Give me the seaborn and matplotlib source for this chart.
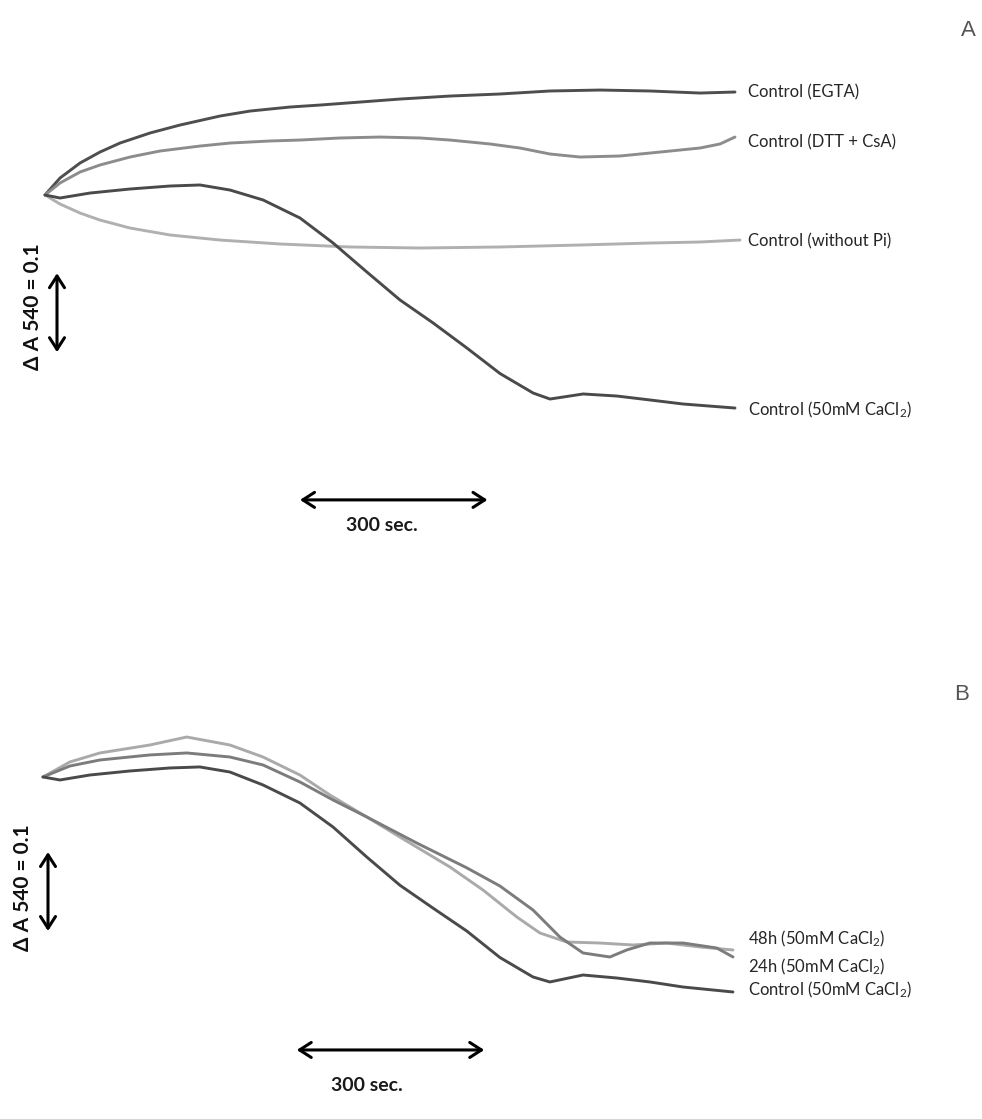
import matplotlib
matplotlib.use("Agg")
import matplotlib.pyplot as plt
import seaborn as sns
import numpy as np

# ---------------- data (time in s, signal in ΔA540 x 1000, relative to start) -------------
# Panel A
t_egta = [0, 24, 56, 88, 120, 168, 216, 280, 328, 392, 440, 504, 568, 648, 728, 808, 888, 968, 1048, 1104]
v_egta = [0, 21.5, 40.5, 54.4, 65.8, 78.5, 88.6, 100.0, 106.3, 111.4, 113.9, 117.7, 121.5, 125.3,
          127.9, 131.7, 132.9, 131.7, 129.1, 130.4]

t_dtt = [0, 24, 56, 88, 136, 184, 248, 296, 360, 408, 472, 536, 600, 648, 712, 760, 808, 856, 920,
         984, 1048, 1080, 1104]
v_dtt = [0, 15.2, 29.1, 38.0, 48.1, 55.7, 62.0, 65.8, 68.4, 69.6, 72.2, 73.4, 72.2, 69.6, 64.6,
         59.5, 51.9, 48.1, 49.4, 54.4, 59.5, 64.6, 73.4]

t_nopi = [0, 24, 56, 88, 136, 200, 280, 376, 488, 600, 728, 856, 968, 1048, 1112]
v_nopi = [0, -11.4, -22.8, -31.7, -41.8, -50.6, -57.0, -62.0, -65.8, -67.1, -65.8, -63.3, -60.8,
          -59.5, -57.0]

t_ctlA = [0, 24, 72, 136, 200, 248, 296, 349, 408, 461, 515, 568, 621, 675, 728, 781, 808, 861,
          915, 968, 1021, 1104]
v_ctlA = [0, -3.8, 2.5, 7.6, 11.4, 12.7, 6.3, -6.3, -29.1, -60.8, -97.5, -132.9, -162.0, -193.7,
          -226.0, -250.7, -258.3, -251.9, -254.5, -259.5, -264.6, -269.7]

# Panel B
t_ctlB = [0, 27, 75, 139, 203, 251, 299, 352, 411, 464, 518, 571, 624, 678, 731, 784, 811, 864,
          918, 971, 1024, 1104]
v_ctlB = [0, -3.8, 2.5, 7.6, 11.4, 12.7, 6.3, -10.1, -32.9, -63.3, -101.3, -137.0, -166.0, -195.0,
          -228.5, -253.2, -259.5, -250.7, -254.5, -259.5, -265.9, -272.2]

t_24h = [0, 43, 91, 171, 230, 299, 352, 411, 464, 518, 598, 678, 731, 784, 827, 864, 907, 934, 971,
         1024, 1078, 1104]
v_24h = [0, 13.9, 21.5, 27.9, 30.4, 25.3, 15.2, -6.3, -29.1, -50.6, -83.6, -115.0, -138.0, -168.4,
         -202.6, -222.8, -227.9, -219.0, -210.2, -210.2, -216.5, -227.9]

t_48h = [0, 43, 91, 171, 230, 299, 352, 411, 459, 518, 571, 651, 704, 758, 795, 838, 891, 944, 998,
         1051, 1104]
v_48h = [0, 19.0, 30.4, 40.5, 50.6, 40.5, 25.3, 2.5, -22.8, -50.6, -76.0, -113.9, -143.1, -177.2,
         -197.5, -208.9, -210.2, -212.7, -210.2, -215.2, -219.0]

labels_A = ["Control (EGTA)", "Control (DTT + CsA)", "Control (without Pi)", "Control (50mM CaCl$_2$)"]
labels_B = ["48h (50mM CaCl$_2$)", "24h (50mM CaCl$_2$)", "Control (50mM CaCl$_2$)"]

scale_time = 300      # s
scale_abs = 100       # 0.1 ΔA  (x1000)

# ---------------- figure ----------------
sns.set_theme(style="white")
plt.rcParams['font.family'] = ['Lato', 'DejaVu Sans']
plt.rcParams['mathtext.default'] = 'regular'

W, H = 982, 1119
fig = plt.figure(figsize=(W / 100, H / 100), dpi=100)
fig.patch.set_facecolor("white")

axA = fig.add_axes([0, 1 - 560 / H, 1, 560 / H])
axB = fig.add_axes([0, 0, 1, (H - 560) / H])

axA.set_xlim(-72, 1499.2)
axA.set_ylim(-462.1, 246.9)
axB.set_xlim(-68.8, 1502.4)
axB.set_ylim(-433.0, 274.7)

lw = 2.1
seriesA = [(t_egta, v_egta, "#4e4e4e"), (t_dtt, v_dtt, "#8c8c8c"),
           (t_nopi, v_nopi, "#b0b0b0"), (t_ctlA, v_ctlA, "#4a4a4a")]
seriesB = [(t_48h, v_48h, "#aaaaaa"), (t_24h, v_24h, "#7c7c7c"), (t_ctlB, v_ctlB, "#4a4a4a")]

for t, v, c in seriesA:
    sns.lineplot(x=t, y=v, ax=axA, color=c, lw=lw, estimator=None, sort=False)
for t, v, c in seriesB:
    sns.lineplot(x=t, y=v, ax=axB, color=c, lw=lw, estimator=None, sort=False)

fs = 12
txtc = "#262626"
labA_y = [130.4, 67.1, -58.2, -272.2]
for lab, y in zip(labels_A, labA_y):
    axA.text(1124.8, y, lab, fontsize=fs, color=txtc, va="center", ha="left")
labB_y = [-205.1, -240.5, -269.7]
for lab, y in zip(labels_B, labB_y):
    axB.text(1128, y, lab, fontsize=fs, color=txtc, va="center", ha="left")

arrow_kw = dict(arrowstyle="<->,head_length=0.7,head_width=0.45", lw=2.2, color="black",
                shrinkA=0, shrinkB=0)

# Panel A scale bars
axA.annotate("", xy=(19.2, -99), xytext=(19.2, -99 - scale_abs), arrowprops=arrow_kw)
axA.text(-19.2, -142, "Δ A 540 = 0.1", rotation=90, fontsize=15, fontweight="bold",
         ha="center", va="center", color="#111111")
axA.annotate("", xy=(408, -386), xytext=(408 + scale_time, -386), arrowprops=arrow_kw)
axA.text(539, -418, "300 sec.", fontsize=14, fontweight="bold", ha="center", va="center",
         color="#1a1a1a")

# Panel B scale bars
axB.annotate("", xy=(8, -95), xytext=(8, -95 - scale_abs), arrowprops=arrow_kw)
axB.text(-32, -140.5, "Δ A 540 = 0.1", rotation=90, fontsize=15, fontweight="bold",
         ha="center", va="center", color="#111111")
axB.annotate("", xy=(406, -345.6), xytext=(406 + scale_time, -345.6), arrowprops=arrow_kw)
axB.text(518, -390, "300 sec.", fontsize=14, fontweight="bold", ha="center", va="center",
         color="#1a1a1a")

# Panel letters
fig.text(968 / W, 1 - 30 / H, "A", fontsize=16, color="#555555", ha="center", va="center",
         family="Liberation Sans")
fig.text(962 / W, 1 - 695 / H, "B", fontsize=16, color="#555555", ha="center", va="center",
         family="Liberation Sans")

for ax in (axA, axB):
    ax.axis("off")

fig.savefig("out.png", dpi=100, facecolor="white")
